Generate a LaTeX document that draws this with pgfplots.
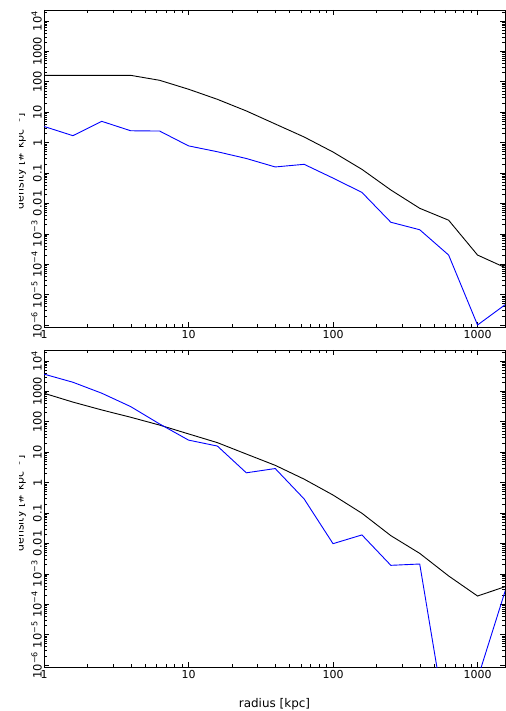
\documentclass[border=0pt]{standalone}
\usepackage{fontspec}
\setmainfont{DejaVu Sans}
\usepackage{pgfplots}
\usepackage{pgfplotstable}
\pgfplotsset{compat=1.18}
\pgfplotstableread{
x top_black top_blue bot_black bot_blue
1      163     3.4      870     3700
1.585  163     1.69     445     2000
2.512  163     5.0      245     870
3.981  163     2.45     141     316
6.310  112     2.4      78      85
10     57      0.78     40      25
15.85  26.5    0.50     20.6    15.9
25.12  11      0.30     8.7     2.1
39.81  4.1     0.158    3.7     2.9
63.10  1.53    0.193    1.3     0.29
100    0.49    0.068    0.39    0.0098
158.5  0.132   0.023    0.098   0.019
251.2  0.0276  0.0024   0.018   0.0019
398.1  0.0069  0.00136  0.0047  0.0021
631.0  0.0028  2.0e-4   8.5e-4  4e-9
1000   2.0e-4  1.0e-6   1.86e-4 3.5e-7
1585   7.4e-5  5e-6     3.9e-4  3.7e-4
}\datatable
\begin{document}
\begin{tikzpicture}
\begin{axis}[xmode=log, ymode=log, scale only axis, width=461bp, height=317bp,
  at={(44bp,384bp)}, anchor=south west,
  xmin=1, xmax=1549, ymin=8.6e-7, ymax=2.3e4,
  xtick={1,10,100,1000}, xticklabels={1,10,100,1000},
  minor xtick={2,3,4,5,6,7,8,9,20,30,40,50,60,70,80,90,200,300,400,500,600,700,800,900},
  ytick={1e-6,1e-5,1e-4,1e-3,1e-2,1e-1,1,10,100,1000,1e4},
  yticklabels={10\textsuperscript{−6},10\textsuperscript{−5},10\textsuperscript{−4},10\textsuperscript{−3},0.01,0.1,1,10,100,1000,10\textsuperscript{4}},
  minor ytick={2e-6,3e-6,4e-6,5e-6,6e-6,7e-6,8e-6,9e-6,2e-5,3e-5,4e-5,5e-5,6e-5,7e-5,8e-5,9e-5,2e-4,3e-4,4e-4,5e-4,6e-4,7e-4,8e-4,9e-4,2e-3,3e-3,4e-3,5e-3,6e-3,7e-3,8e-3,9e-3,0.02,0.03,0.04,0.05,0.06,0.07,0.08,0.09,0.2,0.3,0.4,0.5,0.6,0.7,0.8,0.9,2,3,4,5,6,7,8,9,20,30,40,50,60,70,80,90,200,300,400,500,600,700,800,900,2000,3000,4000,5000,6000,7000,8000,9000,20000},
  tick pos=both, tick align=inside,
  xticklabel pos=lower, yticklabel pos=left,
  major tick length=5bp, minor tick length=3bp,
  axis line style={line width=0.7bp},
  tick style={black, line width=0.6bp},
  tick label style={font=\fontsize{11}{13}\selectfont},
  yticklabel style={rotate=90, anchor=south, inner sep=2pt, font=\fontsize{11.5}{13}\selectfont},
  xticklabel style={inner sep=3pt}]
\addplot[black, line width=0.9bp] table[x=x, y=top_black] {\datatable};
\addplot[blue, line width=0.9bp] table[x=x, y=top_blue] {\datatable};
\end{axis}
\begin{axis}[xmode=log, ymode=log, scale only axis, width=461bp, height=317bp,
  at={(44bp,44bp)}, anchor=south west,
  xmin=1, xmax=1549, ymin=8.6e-7, ymax=2.3e4,
  xtick={1,10,100,1000}, xticklabels={1,10,100,1000},
  minor xtick={2,3,4,5,6,7,8,9,20,30,40,50,60,70,80,90,200,300,400,500,600,700,800,900},
  ytick={1e-6,1e-5,1e-4,1e-3,1e-2,1e-1,1,10,100,1000,1e4},
  yticklabels={10\textsuperscript{−6},10\textsuperscript{−5},10\textsuperscript{−4},10\textsuperscript{−3},0.01,0.1,1,10,100,1000,10\textsuperscript{4}},
  minor ytick={2e-6,3e-6,4e-6,5e-6,6e-6,7e-6,8e-6,9e-6,2e-5,3e-5,4e-5,5e-5,6e-5,7e-5,8e-5,9e-5,2e-4,3e-4,4e-4,5e-4,6e-4,7e-4,8e-4,9e-4,2e-3,3e-3,4e-3,5e-3,6e-3,7e-3,8e-3,9e-3,0.02,0.03,0.04,0.05,0.06,0.07,0.08,0.09,0.2,0.3,0.4,0.5,0.6,0.7,0.8,0.9,2,3,4,5,6,7,8,9,20,30,40,50,60,70,80,90,200,300,400,500,600,700,800,900,2000,3000,4000,5000,6000,7000,8000,9000,20000},
  tick pos=both, tick align=inside,
  xticklabel pos=lower, yticklabel pos=left,
  major tick length=5bp, minor tick length=3bp,
  axis line style={line width=0.7bp},
  tick style={black, line width=0.6bp},
  tick label style={font=\fontsize{11}{13}\selectfont},
  yticklabel style={rotate=90, anchor=south, inner sep=2pt, font=\fontsize{11.5}{13}\selectfont},
  xticklabel style={inner sep=3pt},
  xlabel={radius [kpc]},
  xlabel style={at={(axis description cs:0.5,0)}, anchor=center, yshift=-37bp, font=\fontsize{12}{14}\selectfont}]
\addplot[black, line width=0.9bp] table[x=x, y=bot_black] {\datatable};
\addplot[blue, line width=0.9bp] table[x=x, y=bot_blue] {\datatable};
\end{axis}
\begin{scope}
\clip (19bp,0bp) rectangle (40bp,711bp);
\node[rotate=90, anchor=base, inner sep=0pt, font=\fontsize{11}{13}\selectfont] at (23.5bp,550bp) {density [\# kpc\textsuperscript{−3}]};
\node[rotate=90, anchor=base, inner sep=0pt, font=\fontsize{11}{13}\selectfont] at (23.5bp,207.5bp) {density [\# kpc\textsuperscript{−3}]};
\end{scope}
\pgfresetboundingbox
\path[use as bounding box] (0bp,0bp) rectangle (506bp,711bp);
\end{tikzpicture}
\end{document}
